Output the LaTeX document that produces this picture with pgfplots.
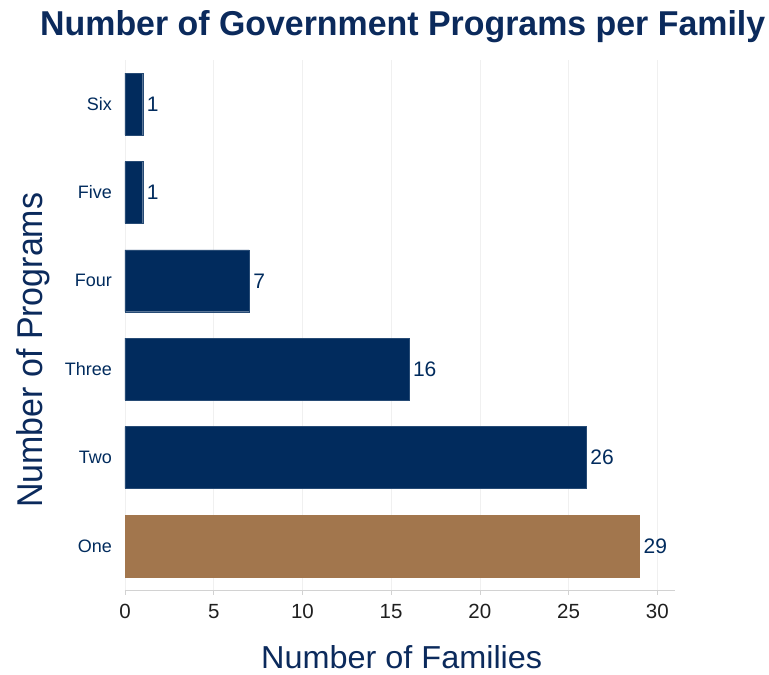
\documentclass[border=0pt]{standalone}
\usepackage{pgfplots}
\pgfplotsset{compat=1.18}
\usepackage{fontspec}
\setmainfont{Liberation Sans}
\definecolor{navy}{HTML}{012B5D}
\definecolor{barbrown}{HTML}{A2764D}
\definecolor{titlenavy}{HTML}{0B2A5C}
\begin{document}
\begin{tikzpicture}
\begin{axis}[
 at={(0,0)}, anchor=south west,
 scale only axis, width=550pt, height=530pt,
 xbar, bar width=0.7, bar shift=0pt,
 xmin=0, xmax=31, ymin=-0.5, ymax=5.5,
 xtick={0,5,...,30},
 ytick={0,...,5}, yticklabels={One,Two,Three,Four,Five,Six},
 axis lines*=left,
 y axis line style={draw=none},
 x axis line style={draw=gray!35, line width=0.8pt},
 xtick style={draw=gray!35, line width=0.6pt},
 ytick style={draw=none},
 xtick align=outside, major tick length=5pt,
 xmajorgrids, grid style={draw=gray!12, line width=0.6pt},
 xticklabel style={font=\fontsize{20.5}{22}\selectfont, text=black!88, inner sep=0pt, anchor=north, yshift=-9pt},
 yticklabel style={font=\fontsize{18}{20}\selectfont, text=navy, inner sep=0pt, anchor=east, xshift=-8pt},
 /pgf/number format/assume math mode=true,
 nodes near coords,
 nodes near coords style={font=\fontsize{21}{22}\selectfont, text=navy, anchor=west, inner sep=0pt, xshift=4pt},
 clip=false,
]
\addplot[fill=navy, draw=navy!85] coordinates {(26,1) (16,2) (7,3) (1,4) (1,5)};
\addplot[fill=barbrown, draw=barbrown] coordinates {(29,0)};
\end{axis}
\node[anchor=base west, inner sep=0pt, text=titlenavy] at (-85pt,554pt) {\resizebox{725pt}{25pt}{\fontsize{35}{40}\selectfont\bfseries Number of Government Programs per Family}};
\node[anchor=base west, inner sep=0pt, text=titlenavy] at (136pt,-78pt) {\resizebox{281pt}{23pt}{\fontsize{32}{36}\selectfont Number of Families}};
\node[anchor=base west, inner sep=0pt, rotate=90, text=titlenavy] at (-82pt,82pt) {\resizebox{315pt}{26pt}{\fontsize{34}{40}\selectfont Number of Programs}};
\pgfresetboundingbox
\path[use as bounding box] (-125pt,-85pt) rectangle (644pt,590pt);
\end{tikzpicture}
\end{document}
